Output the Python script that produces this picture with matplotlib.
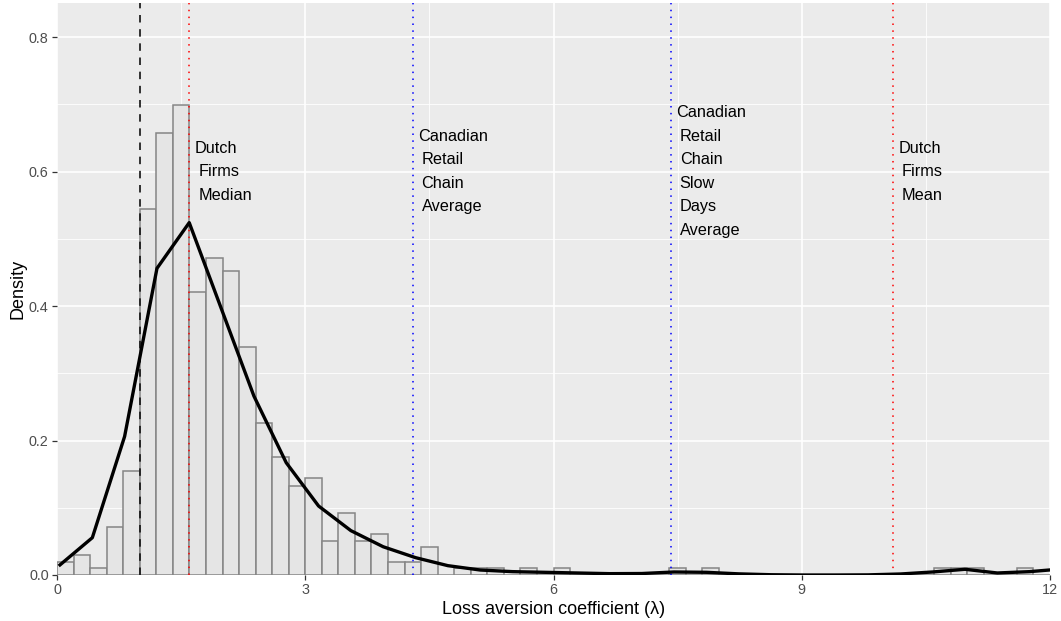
import numpy as np
import matplotlib
matplotlib.use("Agg")
import matplotlib.pyplot as plt
from matplotlib.transforms import offset_copy

plt.rcParams['font.family'] = ['Liberation Sans', 'DejaVu Sans']

# ---- data ----
bin_width = 0.2
hist_density = [
    0.020, 0.030, 0.010, 0.072, 0.154, 0.545, 0.658, 0.699, 0.421, 0.472,   # 0.0 - 1.8
    0.452, 0.339, 0.226, 0.175, 0.133, 0.144, 0.051, 0.092, 0.051, 0.061,   # 2.0 - 3.8
    0.020, 0.020, 0.041, 0.000, 0.010, 0.010, 0.010, 0.000, 0.010, 0.000,   # 4.0 - 5.8
    0.010, 0.000, 0.000, 0.000, 0.000, 0.000, 0.000, 0.010, 0.000, 0.010,   # 6.0 - 7.8
    0.000, 0.000, 0.000, 0.000, 0.000, 0.000, 0.000, 0.000, 0.000, 0.000,   # 8.0 - 9.8
    0.000, 0.000, 0.000, 0.010, 0.010, 0.010, 0.000, 0.000, 0.010, 0.000,   # 10.0 - 11.8
]

kde_x = [0.036, 0.427, 0.817, 1.208, 1.598, 1.989, 2.380, 2.770, 3.161, 3.551,
         3.942, 4.333, 4.723, 5.114, 5.504, 5.895, 6.286, 6.676, 7.067, 7.457,
         7.848, 8.239, 8.629, 9.020, 9.410, 9.801, 10.192, 10.582, 10.973, 11.363,
         11.754, 12.145]
kde_y = [0.015, 0.0555, 0.206, 0.456, 0.524, 0.395, 0.266, 0.167, 0.1026, 0.066,
         0.042, 0.0258, 0.0139, 0.0074, 0.0050, 0.0040, 0.0030, 0.0020, 0.0022, 0.0045,
         0.0040, 0.0017, 0.0004, 0.0, 0.0, 0.0002, 0.0015, 0.0045, 0.0085, 0.0030,
         0.0050, 0.0090]

reference_line = 1.0
marker_values = [1.6, 4.3, 7.42, 10.1]
marker_colors = ['#FF0000', '#0000FF', '#0000FF', '#FF0000']
marker_labels = [
    ["Dutch", "Firms", "Median"],
    ["Canadian", "Retail", "Chain", "Average"],
    ["Canadian", "Retail", "Chain", "Slow", "Days", "Average"],
    ["Dutch", "Firms", "Mean"],
]
label_y = 0.6

x_ticks = [0, 3, 6, 9, 12]
y_ticks = [0.0, 0.2, 0.4, 0.6, 0.8]

# ---- figure ----
W, H = 1061, 621
fig = plt.figure(figsize=(W / 100, H / 100), dpi=100)
ax = fig.add_axes([57 / W, 46 / H, 993 / W, 572 / H])
ax.set_facecolor('#EBEBEB')
for s in ax.spines.values():
    s.set_visible(False)

ax.set_xlim(0, 12)
ax.set_ylim(0, 0.8506)

ax.set_xticks(x_ticks)
ax.set_xticklabels([str(t) for t in x_ticks])
ax.set_yticks(y_ticks)
ax.set_yticklabels([f"{t:.1f}" for t in y_ticks])
ax.set_xticks([1.5, 4.5, 7.5, 10.5], minor=True)
ax.set_yticks([0.1, 0.3, 0.5, 0.7], minor=True)
ax.grid(which='major', color='white', linewidth=1.2)
ax.grid(which='minor', color='white', linewidth=0.6)
ax.set_axisbelow(True)
ax.tick_params(which='major', length=3.5, width=0.9, color='#333333',
               labelsize=10.4, labelcolor='#4D4D4D', pad=2.5)
ax.tick_params(which='minor', length=0)

# histogram
edges = np.arange(len(hist_density)) * bin_width
ax.bar(edges, hist_density, width=bin_width, align='edge',
       color='#E5E5E5', edgecolor='#858585', linewidth=1.1, zorder=2)

# density curve
ax.plot(kde_x, kde_y, color='black', linewidth=2.4, zorder=4,
        solid_joinstyle='round', clip_on=True)

# reference lines
ax.axvline(reference_line, color='#111111', linestyle=(0, (4.5, 4)),
           linewidth=1.2, zorder=3)
for v, c in zip(marker_values, marker_colors):
    ax.axvline(v, color=c, linestyle=(0, (1, 3.5)), linewidth=1.1, zorder=3)

# labels
step_pt = 23.5 * 0.72
for v, lines in zip(marker_values, marker_labels):
    n = len(lines)
    for i, line in enumerate(lines):
        dy = ((n - 1) / 2 - i) * step_pt
        dx = 4.0 if i == 0 else 6.3
        tr = offset_copy(ax.transData, fig=fig, x=dx, y=dy, units='points')
        ax.text(v, label_y, line, transform=tr, ha='left', va='center',
                fontsize=11.7, color='black', zorder=5)

ax.set_xlabel('Loss aversion coefficient (λ)', fontsize=13, labelpad=3)
ax.set_ylabel('Density', fontsize=13, labelpad=2)

fig.savefig('out.png', dpi=100)
